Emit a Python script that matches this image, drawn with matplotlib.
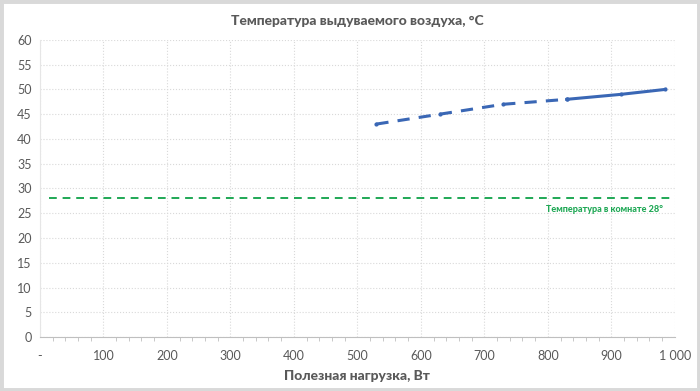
import matplotlib.pyplot as plt
from matplotlib.patches import Rectangle
from matplotlib.ticker import MultipleLocator, FuncFormatter

plt.rcParams['font.family'] = ['Lato', 'DejaVu Sans']

# data
load_w = [530, 630, 730, 830, 915, 985]
temp_c = [43, 45, 47, 48, 49, 50]
split = 3  # dashed up to load_w[split], solid afterwards
room_x = [15, 1000]
room_t = [28, 28]

txt = "#595959"
blue = "#3A67B5"
green = "#1FA855"

fig = plt.figure(figsize=(7, 3.91), dpi=100)
fig.patches.append(Rectangle((0, 0), 1, 1, transform=fig.transFigure,
                             fill=False, edgecolor="#d9d9d9", linewidth=5))
ax = fig.add_axes([0.057, 0.138, 0.907, 0.76])

ax.plot(load_w[:split + 1], temp_c[:split + 1], color=blue, lw=2.2,
        ls=(0, (4, 3)), marker="o", ms=2)
ax.plot(load_w[split:], temp_c[split:], color=blue, lw=2.2,
        marker="o", ms=2)
ax.plot(room_x, room_t, color=green, lw=1.4, ls=(0, (4, 3)))
ax.text(982, 25.8, "Температура в комнате 28°", color=green, fontsize=6.5,
        fontweight="black", ha="right", va="center")

ax.set_xlim(0, 1000)
ax.set_ylim(0, 60)
ax.xaxis.set_major_locator(MultipleLocator(100))
ax.xaxis.set_minor_locator(MultipleLocator(20))
ax.yaxis.set_major_locator(MultipleLocator(5))
ax.xaxis.set_major_formatter(FuncFormatter(
    lambda v, p: "-" if v == 0 else f"{int(v):,}".replace(",", " ")))

ax.grid(True, color="#d9d9d9", ls=":", lw=0.8)
ax.set_axisbelow(True)
for s in ["top", "right"]:
    ax.spines[s].set_visible(False)
ax.spines["left"].set_color("#e6e6e6")
ax.spines["bottom"].set_color("#bfbfbf")
ax.tick_params(axis="both", colors=txt, labelsize=9, length=0, pad=6)
ax.tick_params(axis="x", which="both", length=3, color="#bfbfbf", pad=9)
ax.tick_params(axis="x", which="major", length=0)

ax.set_title("Температура выдуваемого воздуха, °C", color=txt, fontsize=10,
             fontweight="black", pad=11)
ax.set_xlabel("Полезная нагрузка, Вт", color=txt, fontsize=10,
              fontweight="black", labelpad=6)

fig.savefig("out.png", dpi=100)
